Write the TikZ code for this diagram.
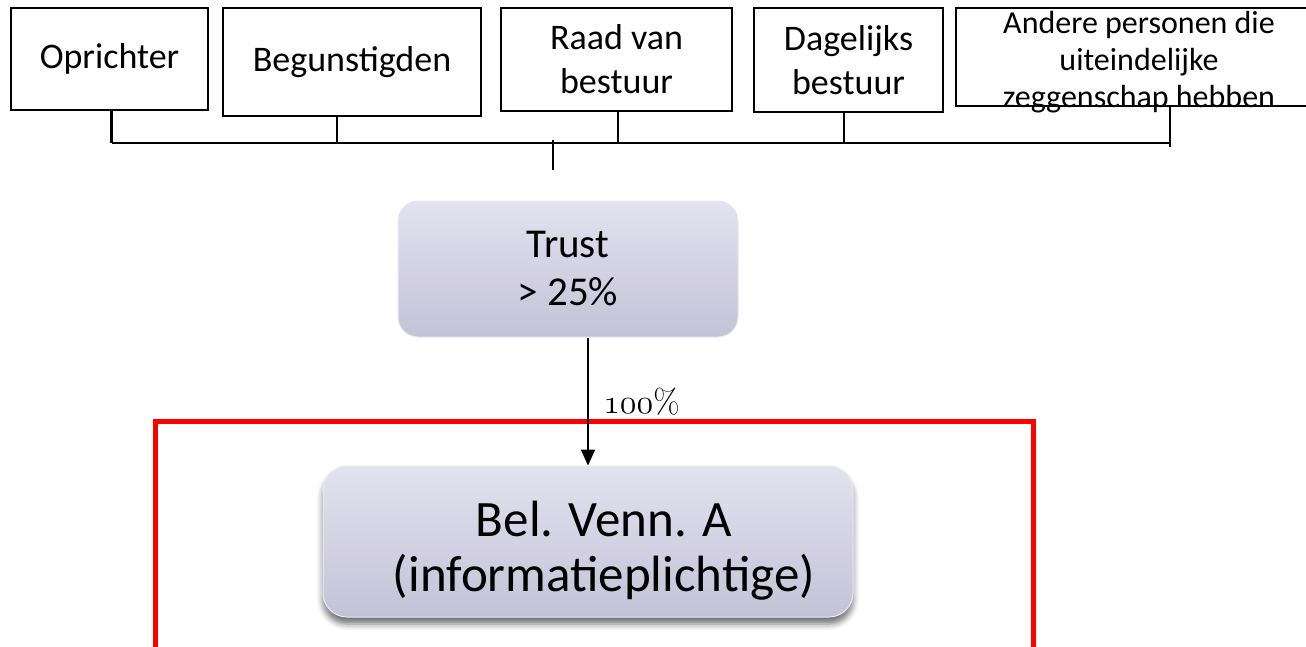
\RequirePackage{fix-cm}
\documentclass[tikz,border=0pt]{standalone}
\usepackage{fontspec}
\setmainfont{Carlito}
\newfontfamily\lmr{Latin Modern Roman}
\usetikzlibrary{arrows.meta,calc,shadows.blur}
\definecolor{lavtop}{HTML}{E3E2EF}
\definecolor{lavbot}{HTML}{C4C2D7}
\definecolor{lavedge}{HTML}{E9E8F3}
\begin{document}
\begin{tikzpicture}[x=1pt,y=-1pt,
  topbox/.style={draw=black, line width=2pt, inner sep=0pt, align=center, font=\fontsize{36}{44}\selectfont},
  entity/.style={draw=lavedge, line width=1pt, top color=lavtop, bottom color=lavbot, rounded corners=20pt, inner sep=0pt},
  conn/.style={line width=2.5pt, draw=black},
  arr/.style={line width=2pt, draw=black, -{Triangle[width=14pt,length=16pt]}},
  frame/.style={draw=red, line width=5pt}]
\useasboundingbox (0,0) rectangle (1306,646);

\node[topbox, minimum width=197pt, minimum height=102pt] (opr) at (109.5,59) {Oprichter};
\node[topbox, minimum width=258pt, minimum height=108pt] (beg) at (352,62) {Begunstigden};
\node[topbox, minimum width=231pt, minimum height=103pt] (raad) at (616.5,59.5) {Raad van\\bestuur};
\node[topbox, minimum width=189pt, minimum height=104pt] (dag) at (848.5,60) {Dagelijks\\bestuur};
\node[topbox, minimum width=356pt, minimum height=98pt,
  label={[font=\fontsize{32}{37}\selectfont, align=center, xshift=5pt, yshift=-5pt]center:{Andere personen die\\uiteindelijke\\zeggenschap hebben}}] (and) at (1134,57) {};

\coordinate (bus) at (0,143);
\coordinate (s1) at ($(opr.south)+(2,0)$);
\coordinate (s2) at ($(beg.south)+(-15,0)$);
\coordinate (s3) at ($(raad.south)+(1.5,0)$);
\coordinate (s4) at ($(dag.south)+(-4.5,0)$);
\coordinate (s5) at ($(and.south)+(36,0)$);
\coordinate (s1b) at (s1 |- bus);
\coordinate (s5b) at (s5 |- bus);
\coordinate (s5c) at ($(s5b)+(0,4)$);
\draw[conn] (s1) -- (s1b);
\draw[conn] (s2) -- (s2 |- bus);
\draw[conn] (s3) -- (s3 |- bus);
\draw[conn] (s4) -- (s4 |- bus);
\draw[conn] (s5) -- (s5c);
\draw[conn] (s1b) -- (s5b);
\coordinate (c0) at (553,140);
\coordinate (c1) at (553,170);
\draw[conn] (c0) -- (c1);

\node[entity, minimum width=340pt, minimum height=136pt, align=center, font=\fontsize{41}{48}\selectfont] (trust) at (568,269) {Trust\\> 25\%};

\draw[frame] (155,650) -- (155,421) -- (1033,421) -- (1033,650);

\node[entity, rounded corners=24pt, minimum width=530pt, minimum height=151pt,
  blur shadow={shadow xshift=0pt, shadow yshift=-7pt, shadow blur radius=6pt, shadow opacity=55},
  label={[font=\fontsize{51}{55}\selectfont, align=center, xshift=16pt, yshift=-9pt]center:{Bel. Venn. A\\(informatieplichtige)}}] (bel) at (588,541.5) {};

\coordinate (atop) at (trust.south -| bel.north);
\draw[arr] (atop) -- (bel.north) node[pos=0.5, anchor=west, xshift=11pt, font=\lmr\fontsize{34}{40}\selectfont] (pct) {$\mathnormal{100}$\%};
\end{tikzpicture}
\end{document}
